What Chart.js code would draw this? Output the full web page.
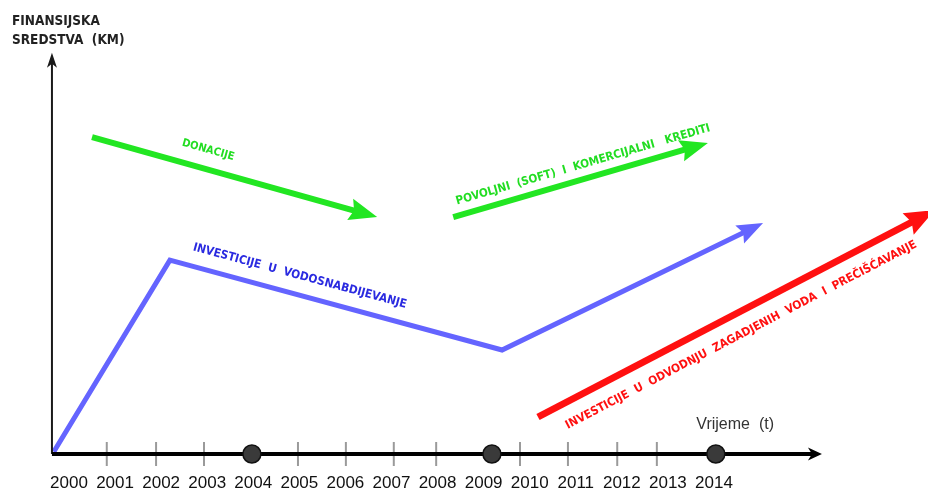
<!DOCTYPE html>
<html><head><meta charset="utf-8">
<script src="https://cdn.jsdelivr.net/npm/chart.js@4/dist/chart.umd.min.js"></script>
<style>html,body{margin:0;padding:0;background:#fff}#wrap{width:928px;height:492px}</style>
</head><body><div id="wrap"><canvas id="c" width="928" height="492"></canvas></div>
<script>
// ---- data (years on x, schematic financial means on y, 0..100) ----
const years = [2000,2001,2002,2003,2004,2005,2006,2007,2008,2009,2010,2011,2012,2013,2014];
const tickMarkYears = [2000.82,2001.89,2002.93,2004.97,2006.01,2007.05,2007.97,2009.79,2010.83,2011.90,2012.76];
const milestoneYears = [2003.97,2009.18,2014.04];

const waterSupplyX = [1999.67,2002.19,2009.40,2014.87];
const waterSupplyY = [0.5,42.7,22.9,49.9];
const donationsX = [2000.50,2006.48];
const donationsY = [69.8,52.8];
const creditsX = [2008.34,2013.66];
const creditsY = [52.2,67.9];
const wastewaterX = [2010.18,2018.60];
const wastewaterY = [8.15,52.7];

const timeAxisX = [1999.63,2016.17];
const moneyAxisY = [0,86.6];

const labelTexts = ['INVESTICIJE  U  VODOSNABDIJEVANJE','DONACIJE','POVOLJNI  (SOFT)  I  KOMERCIJALNI   KREDITI','INVESTICIJE  U  ODVODNJU  ZAGADJENIH  VODA  I  PREČIŠĆAVANJE'];
const labelX = [2005.01,2003.02,2011.16,2014.59];
const labelY = [39.2,66.96,63.7,26.2];
const yTitleLines = ['FINANSIJSKA','SREDSTVA  (KM)'];
const xTitle = 'Vrijeme  (t)';
const xTitleAt = [2014.46,6.4];

const pts = (xs, ys) => xs.map((x,i)=>({x, y: ys[i]}));

const BLUE='#6464ff', GREEN='#22e622', RED='#ff1010';

const datasets = [
  {data: pts(milestoneYears, milestoneYears.map(()=>0)), showLine:false, pointRadius:9, pointBackgroundColor:'#3a3a3a', pointBorderColor:'#111', pointBorderWidth:1.5, order:1},
  {data: pts(timeAxisX,[0,0]), borderColor:'#000', borderWidth:4, pointRadius:0, order:2, arrow:{len:14, wid:13, ext:8}},
  {data: pts([timeAxisX[0],timeAxisX[0]], moneyAxisY), borderColor:'#1a1a1a', borderWidth:2, pointRadius:0, order:2, arrow:{len:15, wid:10, ext:8}},
  {data: pts(tickMarkYears, tickMarkYears.map(()=>0)), showLine:false, pointStyle:'line', rotation:90, pointRadius:12, pointBorderColor:'#9a9a9a', pointBorderWidth:2, order:3},
  {data: pts(waterSupplyX, waterSupplyY), borderColor:BLUE, borderWidth:5, pointRadius:0, borderJoinStyle:'miter', order:4, arrow:{len:26, wid:20, ext:10}},
  {data: pts(donationsX, donationsY), borderColor:GREEN, borderWidth:6, pointRadius:0, order:4, arrow:{len:28, wid:22, ext:10}},
  {data: pts(creditsX, creditsY), borderColor:GREEN, borderWidth:6, pointRadius:0, order:4, arrow:{len:28, wid:22, ext:10}},
  {data: pts(wastewaterX, wastewaterY), borderColor:RED, borderWidth:7, pointRadius:0, order:4, arrow:{len:30, wid:24, ext:10}}
].map(d=>Object.assign({clip:false, fill:false, tension:0, borderCapStyle:'butt'}, d));

const labelStyle = [
  {color:'#2a2ae0', size:11.8, ds:4, seg:1},
  {color:'#22dd22', size:11, ds:5, seg:0},
  {color:'#22dd22', size:11.6, ds:6, seg:0},
  {color:'#ff1010', size:11.8, ds:7, seg:0}
];

const decor = {
  id:'decor',
  afterDatasetsDraw(chart){
    const ctx = chart.ctx;
    const xs = chart.scales.x, ys = chart.scales.y;
    chart.data.datasets.forEach((ds,i)=>{
      if(!ds.arrow) return;
      const m = chart.getDatasetMeta(i).data;
      const a = m[m.length-2], b = m[m.length-1];
      let dx=b.x-a.x, dy=b.y-a.y; const L=Math.hypot(dx,dy); dx/=L; dy/=L;
      const tx=b.x+dx*ds.arrow.ext, ty=b.y+dy*ds.arrow.ext;
      const bx=tx-dx*ds.arrow.len, by=ty-dy*ds.arrow.len;
      const w=ds.arrow.wid/2;
      ctx.save();
      ctx.fillStyle=ds.borderColor;
      ctx.beginPath();
      ctx.moveTo(tx,ty);
      ctx.lineTo(bx-dy*w, by+dx*w);
      ctx.lineTo(bx+dx*4, by+dy*4);
      ctx.lineTo(bx+dy*w, by-dx*w);
      ctx.closePath();
      ctx.fill();
      ctx.restore();
    });
    // rotated series labels
    labelTexts.forEach((t,i)=>{
      const st = labelStyle[i];
      const m = chart.getDatasetMeta(st.ds).data;
      const a = m[st.seg], b = m[st.seg+1];
      const ang = Math.atan2(b.y-a.y, b.x-a.x);
      ctx.save();
      ctx.translate(xs.getPixelForValue(labelX[i]), ys.getPixelForValue(labelY[i]));
      ctx.rotate(ang);
      ctx.font = `bold ${st.size}px "DejaVu Sans Condensed", "DejaVu Sans", sans-serif`;
      ctx.fillStyle = st.color;
      ctx.textAlign='center'; ctx.textBaseline='middle';
      ctx.fillText(t,0,0);
      ctx.restore();
    });
    // axis titles
    ctx.save();
    ctx.fillStyle='#222';
    ctx.font='bold 13.5px "DejaVu Sans Condensed", "DejaVu Sans", sans-serif';
    ctx.textAlign='left'; ctx.textBaseline='middle';
    ctx.fillText(yTitleLines[0], 12, 21);
    ctx.fillText(yTitleLines[1], 12, 40);
    ctx.font='16px "Liberation Sans", Arial, sans-serif';
    ctx.fillStyle='#333';
    ctx.textAlign='center';
    ctx.fillText(xTitle, xs.getPixelForValue(xTitleAt[0]), ys.getPixelForValue(xTitleAt[1]));
    ctx.restore();
  }
};

new Chart(document.getElementById('c'), {
  type:'line',
  data:{datasets},
  options:{
    responsive:false, animation:false, devicePixelRatio:1,
    layout:{padding:0, autoPadding:false},
    plugins:{legend:{display:false}, tooltip:{enabled:false}, title:{display:false}},
    scales:{
      x:{type:'linear', min:1998.5023, max:2018.6456,
         afterBuildTicks:(s)=>{ s.ticks = years.map(v=>({value:v})); },
         afterFit:(s)=>{ s.height = 38; },
         grid:{display:false, drawTicks:false}, border:{display:false},
         ticks:{autoSkip:false, maxRotation:0, padding:19, color:'#111', font:{size:17, family:'"Liberation Sans", Arial, sans-serif'}, callback:(v)=>String(v)}},
      y:{type:'linear', min:0, max:100, display:false}
    }
  },
  plugins:[decor]
});
</script></body></html>
